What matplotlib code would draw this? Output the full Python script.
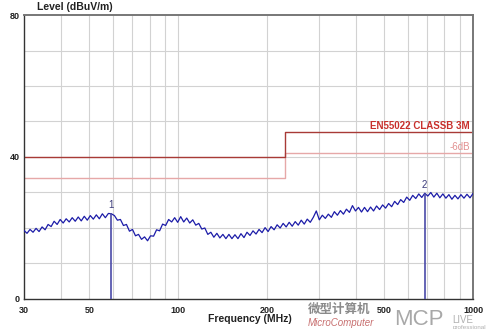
import numpy as np
import matplotlib
matplotlib.use("Agg")
import matplotlib.pyplot as plt
from matplotlib.transforms import blended_transform_factory

plt.rcParams['font.family'] = ['Liberation Sans', 'Noto Sans CJK SC', 'DejaVu Sans']

# ---- data ----
levels = [
    19.3, 18.5, 19.6, 18.8, 19.9, 19.0, 20.3, 19.5, 21.0, 20.4,
    21.9, 21.0, 22.4, 21.4, 22.6, 21.7, 22.9, 21.9, 23.1, 22.0,
    23.3, 22.2, 23.5, 22.5, 23.7, 22.6, 24.0, 22.9, 24.1, 24.0,
    23.5, 22.2, 22.4, 20.7, 21.0, 19.1, 19.6, 17.8, 18.2, 16.8,
    17.5, 16.4, 17.8, 17.7, 19.5, 19.2, 21.1, 20.7, 22.4, 21.7,
    22.9, 21.6, 23.2, 21.7, 22.8, 21.4, 22.3, 20.8, 21.3, 19.7,
    20.0, 18.2, 18.8, 17.4, 18.5, 17.2, 18.2, 17.0, 18.2, 17.0,
    18.1, 17.0, 18.4, 17.3, 18.8, 17.9, 19.2, 18.3, 19.6, 18.7,
    20.1, 19.0, 20.4, 19.5, 20.9, 20.0, 21.3, 20.3, 21.6, 20.5,
    21.8, 20.8, 22.2, 21.1, 22.5, 21.6, 23.0, 24.8, 22.3, 23.6,
    22.7, 23.9, 23.0, 24.6, 23.6, 24.9, 23.9, 25.3, 24.4, 26.3,
    24.8, 25.8, 24.5, 25.8, 24.6, 25.9, 24.8, 26.2, 25.2, 26.5,
    25.6, 26.9, 26.0, 27.5, 26.6, 28.0, 27.2, 28.7, 27.8, 29.2,
    28.3, 29.6, 28.6, 29.8, 29.0, 30.0, 28.7, 29.8, 28.5, 29.6,
    28.4, 29.4, 28.1, 29.2, 28.2, 29.4, 28.4, 29.5, 28.5, 29.7,
]
freq = np.geomspace(30, 1000, len(levels))

limit_freq = [30, 230, 230, 1000]
limit_level = [40, 40, 47, 47]
limit6_level = [34, 34, 41, 41]

marker_freq = [59.4, 686]
marker_level = [23.9, 29.6]
marker_labels = ["1", "2"]

xticks = [30, 50, 100, 200, 500, 1000]
xtick_labels = ["30", "50", "100", "200", "500", "1000"]
yticks = [0, 40, 80]

# ---- figure ----
fig = plt.figure(figsize=(5.0, 3.29), dpi=100)
ax = fig.add_axes([0.048, 0.0912, 0.898, 0.8632])
ax.set_xscale('log')
ax.set_xlim(30, 1000)
ax.set_ylim(0, 80)

# grid
for gx in list(range(40, 100, 10)) + list(range(100, 1000, 100)):
    ax.axvline(gx, color='#d2d2d2', lw=0.8, zorder=0)
for gy in range(10, 80, 10):
    ax.axhline(gy, color='#d2d2d2', lw=0.8, zorder=0)

ax.set_xticks(xticks)
ax.set_xticklabels(xtick_labels)
ax.xaxis.set_minor_locator(matplotlib.ticker.NullLocator())
ax.set_yticks(yticks)
ax.set_yticklabels([str(v) for v in yticks])
ax.tick_params(axis='both', length=0, labelsize=6.5, colors='#222222')
ax.tick_params(axis='x', pad=5)
ax.tick_params(axis='y', pad=3)
for lab in ax.get_xticklabels() + ax.get_yticklabels():
    lab.set_fontweight('bold')

for s in ['left', 'bottom']:
    ax.spines[s].set_color('#333333')
    ax.spines[s].set_linewidth(1.0)
for s in ['top', 'right']:
    ax.spines[s].set_color('#777777')
    ax.spines[s].set_linewidth(1.4)

# limit lines
ax.plot(limit_freq, limit6_level, color='#e6a8a8', lw=1.0, zorder=2)
ax.plot(limit_freq, limit_level, color='#a83a36', lw=1.0, zorder=2)
tr = blended_transform_factory(ax.transAxes, ax.transData)
ax.text(0.993, 48.8, "EN55022 CLASSB 3M", transform=tr, ha='right', va='center',
        fontsize=7, fontweight='bold', color='#c8302c')
ax.text(0.993, 42.8, "-6dB", transform=tr, ha='right', va='center',
        fontsize=7, color='#e29090')

# trace
ax.plot(freq, levels, color='#1c1ca8', lw=0.9, zorder=3)

# markers
for mf, ml, lab in zip(marker_freq, marker_level, marker_labels):
    ax.plot([mf, mf], [0, ml], color='#4a4aa8', lw=1.2, zorder=4)
    ax.text(mf, ml + 1.2, lab, ha='center', va='bottom', fontsize=7, color='#3a3a7a')

# axis titles
fig.text(0.074, 0.978, "Level (dBuV/m)", ha='left', va='center', fontsize=7.5,
         fontweight='bold', color='#222222')
fig.text(0.50, 0.030, "Frequency (MHz)", ha='center', va='center', fontsize=7.5,
         fontweight='bold', color='#222222')

# watermark
fig.text(0.615, 0.058, "微型计算机", ha='left', va='center', fontsize=9,
         fontweight='bold', color='#8a8a8a', family=['Noto Sans CJK SC', 'DejaVu Sans'])
fig.text(0.615, 0.018, "MicroComputer", ha='left', va='center', fontsize=7,
         fontstyle='italic', color='#c87070')
fig.text(0.788, 0.030, "MCP", ha='left', va='center', fontsize=16,
         color='#a8a8a8')
fig.text(0.905, 0.027, "LIVE", ha='left', va='center', fontsize=7,
         color='#b0b0b0')
fig.text(0.905, 0.006, "professional", ha='left', va='center', fontsize=4.5,
         color='#b0b0b0')

fig.savefig("out.png", dpi=100)
